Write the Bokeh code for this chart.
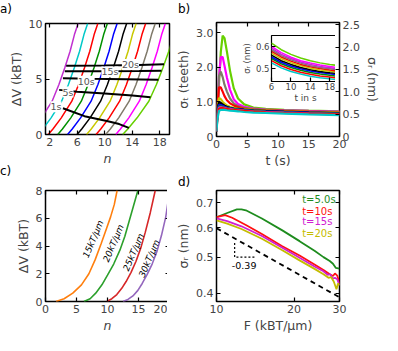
from bokeh.plotting import figure
from bokeh.models import (Range1d, LinearAxis, LogAxis, FixedTicker, Label, Div,
                          CustomJSTickFormatter, BasicTickFormatter)
from bokeh.layouts import column
from bokeh.embed import file_html
from bokeh.resources import INLINE

FONT = "DejaVu Sans"

# ---------------- panel a data ----------------
a_levels = [0, 0.5, 1.5, 3, 4.5, 6, 7.5, 9, 10]
a_n_purple = [-1.06, -0.38, 0.83, 2.36, 3.35, 4.19, 4.97, 5.60, 6.14]
a_n_cyan = [0.32, 1.00, 2.21, 3.74, 4.73, 5.57, 6.35, 6.98, 7.52]
a_n_red = [1.80, 2.48, 3.69, 5.22, 6.21, 7.05, 7.83, 8.46, 9.00]
a_n_green = [3.18, 3.86, 5.07, 6.60, 7.59, 8.43, 9.21, 9.84, 10.38]
a_n_blue = [4.60, 5.28, 6.49, 8.02, 9.01, 9.85, 10.63, 11.26, 11.80]
a_n_black = [5.98, 6.66, 7.87, 9.40, 10.39, 11.23, 12.01, 12.64, 13.18]
a_n_olive = [7.36, 8.04, 9.25, 10.78, 11.77, 12.61, 13.39, 14.02, 14.56]
a_n_red2 = [8.74, 9.42, 10.63, 12.16, 13.15, 13.99, 14.77, 15.40, 15.94]
a_n_gray = [10.13, 10.81, 12.02, 13.55, 14.54, 15.38, 16.16, 16.79, 17.33]
a_n_magenta = [11.60, 12.28, 13.49, 15.02, 16.01, 16.85, 17.63, 18.26, 18.80]
a_n_lime = [12.60, 13.35, 14.70, 16.40, 17.50, 18.43, 19.30, 20.00, 20.60]
a_colors = ["#c030d0", "#00c8c8", "#ff0000", "#009000", "#0000ff", "#000000",
            "#c8c800", "#ff0000", "#807a6a", "#ff00ff", "#66d000"]

a_iso_1s_n = [3.93, 7.06, 10.3, 12.1, 13.5]
a_iso_1s_v = [2.37, 1.65, 1.22, 0.94, 0.60]
a_iso_5s_n = [3.38, 6.0, 10.0, 14.0, 16.64]
a_iso_5s_v = [4.02, 3.85, 3.70, 3.52, 3.36]
a_iso_10s_n = [3.93, 8.0, 13.0, 17.8]
a_iso_10s_v = [5.07, 5.02, 4.98, 4.93]
a_iso_15s_n = [4.2, 10.0, 15.0, 18.25]
a_iso_15s_v = [5.70, 5.70, 5.72, 5.75]
a_iso_20s_n = [4.4, 10.0, 15.0, 18.6]
a_iso_20s_v = [6.20, 6.22, 6.26, 6.32]
a_iso_labels = ["1s", "5s", "10s", "15s", "20s"]
a_iso_label_n = [2.92, 4.67, 7.3, 10.75, 13.73]
a_iso_label_v = [2.5, 3.82, 4.79, 5.64, 6.3]

# ---------------- panel b data ----------------
b_t = [0, 0.15, 0.4, 0.7, 1.0, 1.3, 1.7, 2.2, 2.8, 3.5, 4.5, 6, 8, 11, 15, 20]
b_lime = [0.15, 0.6, 1.5, 2.45, 2.92, 2.85, 2.45, 1.9, 1.4, 1.1, 0.93, 0.84, 0.80, 0.77, 0.75, 0.73]
b_magenta = [0.15, 0.7, 1.7, 2.3, 2.3, 2.05, 1.7, 1.35, 1.08, 0.94, 0.86, 0.81, 0.78, 0.76, 0.74, 0.72]
b_gray = [0.15, 0.8, 1.75, 1.88, 1.72, 1.5, 1.3, 1.1, 0.96, 0.88, 0.83, 0.79, 0.77, 0.75, 0.73, 0.71]
b_red2 = [0.15, 0.85, 1.42, 1.42, 1.3, 1.17, 1.05, 0.96, 0.9, 0.85, 0.81, 0.78, 0.76, 0.74, 0.72, 0.70]
b_olive = [0.15, 0.85, 1.12, 1.08, 1.01, 0.95, 0.9, 0.86, 0.83, 0.81, 0.79, 0.77, 0.75, 0.73, 0.71, 0.69]
b_black = [0.15, 0.8, 0.99, 0.97, 0.93, 0.89, 0.86, 0.83, 0.81, 0.8, 0.78, 0.76, 0.74, 0.72, 0.70, 0.68]
b_blue = [0.15, 0.75, 0.92, 0.91, 0.89, 0.86, 0.84, 0.82, 0.8, 0.79, 0.77, 0.75, 0.73, 0.71, 0.69, 0.67]
b_green = [0.15, 0.7, 0.87, 0.87, 0.86, 0.84, 0.82, 0.81, 0.79, 0.78, 0.76, 0.74, 0.72, 0.70, 0.68, 0.66]
b_purple = [0.15, 0.65, 0.84, 0.85, 0.84, 0.83, 0.81, 0.8, 0.78, 0.77, 0.75, 0.73, 0.71, 0.69, 0.67, 0.65]
b_red = [0.15, 0.6, 0.8, 0.82, 0.82, 0.81, 0.8, 0.78, 0.77, 0.76, 0.74, 0.72, 0.70, 0.68, 0.66, 0.64]
b_cyan = [0.15, 0.5, 0.74, 0.77, 0.77, 0.77, 0.76, 0.75, 0.74, 0.73, 0.71, 0.69, 0.68, 0.66, 0.64, 0.62]

# inset of b
i_t = [6, 8, 10, 12, 14, 16, 18, 20]
i_lime = [0.615, 0.585, 0.564, 0.547, 0.535, 0.525, 0.518, 0.512]
i_magenta = [0.600, 0.572, 0.551, 0.535, 0.524, 0.515, 0.508, 0.502]
i_purple = [0.592, 0.564, 0.545, 0.529, 0.518, 0.509, 0.503, 0.497]
i_gray = [0.585, 0.558, 0.539, 0.524, 0.512, 0.504, 0.498, 0.492]
i_red2 = [0.578, 0.552, 0.533, 0.518, 0.507, 0.499, 0.492, 0.487]
i_olive = [0.570, 0.544, 0.526, 0.512, 0.501, 0.493, 0.487, 0.482]
i_black = [0.560, 0.535, 0.518, 0.504, 0.494, 0.486, 0.480, 0.475]
i_blue = [0.552, 0.528, 0.511, 0.498, 0.488, 0.481, 0.475, 0.470]
i_green = [0.545, 0.521, 0.504, 0.491, 0.481, 0.474, 0.468, 0.463]
i_red = [0.535, 0.512, 0.495, 0.482, 0.473, 0.465, 0.460, 0.455]
i_cyan = [0.525, 0.502, 0.486, 0.474, 0.464, 0.457, 0.452, 0.447]

# ---------------- panel c data ----------------
c_n15 = [1.7, 3.0, 4.4, 5.8, 7.0, 8.0, 9.0, 9.8, 10.5, 11.1, 11.55]
c_v15 = [0, 0.2, 0.6, 1.2, 2.0, 3.0, 4.2, 5.2, 6.1, 7.0, 8.0]
c_n20 = [6.2, 7.2, 8.1, 9.1, 10.0, 11.0, 12.0, 12.8, 13.5, 14.2, 14.9]
c_v20 = [0, 0.2, 0.6, 1.2, 1.9, 2.7, 3.7, 4.7, 5.8, 6.9, 8.0]
c_n25 = [9.9, 10.7, 11.5, 12.3, 13.0, 13.8, 14.6, 15.4, 16.1, 16.9, 17.7]
c_v25 = [0, 0.2, 0.5, 0.95, 1.44, 2.1, 2.9, 3.9, 5.0, 6.4, 8.0]
c_n30 = [12.5, 13.3, 14.1, 14.9, 15.6, 16.4, 17.2, 18.0, 18.7, 19.4, 20.0]
c_v30 = [0, 0.15, 0.4, 0.8, 1.3, 1.95, 2.7, 3.65, 4.75, 6.1, 7.9]
c_colors = ["#ff7f0e", "#2ca02c", "#d62728", "#9467bd"]
c_labels = ["15kT/μm", "20kT/μm", "25kT/μm", "30kT/μm"]
c_label_n = [7.7, 10.95, 14.2, 16.75]
c_label_v = [4.5, 4.2, 3.55, 3.1]

# ---------------- panel d data ----------------
d_F5 = [10, 11, 12, 12.5, 13, 15, 18, 21, 24, 26, 27.5, 28.3, 29, 30]
d_s5 = [0.64, 0.657, 0.672, 0.672, 0.668, 0.635, 0.59, 0.552, 0.52, 0.5, 0.488, 0.48, 0.468, 0.466]
d_F10 = [10, 10.8, 11.5, 13, 15, 18, 21, 24, 26, 27.5, 28.3, 28.8, 29.4, 30]
d_s10 = [0.64, 0.648, 0.638, 0.61, 0.577, 0.535, 0.505, 0.478, 0.462, 0.45, 0.445, 0.452, 0.446, 0.425]
d_F15 = [10, 11, 12.5, 15, 18, 21, 24, 26, 27, 27.6, 28.2, 28.8, 29.4, 30]
d_s15 = [0.635, 0.625, 0.605, 0.57, 0.53, 0.498, 0.472, 0.458, 0.448, 0.45, 0.438, 0.44, 0.436, 0.42]
d_F20 = [10, 11, 12.5, 15, 18, 21, 24, 26, 27.2, 27.8, 28.5, 29.2, 29.6, 30]
d_s20 = [0.628, 0.615, 0.595, 0.56, 0.522, 0.49, 0.465, 0.45, 0.44, 0.442, 0.43, 0.41, 0.425, 0.42]
d_colors = ["#1e8c1e", "#ff1010", "#d020d0", "#c4bc00"]
d_labels = ["t=5.0s", "t=10s", "t=15s", "t=20s"]
d_label_F = [21.5, 21.5, 21.5, 21.5]
d_label_s = [0.715, 0.665, 0.624, 0.577]
d_fit_F = [10, 30]
d_fit_s = [0.598, 0.39]
d_tri_F = [11.76, 11.76, 14.1]
d_tri_s = [0.546, 0.5, 0.5]


def base_fig(xr, yr, fl, ft, fw, fh, bl, bt, br, bb, x_type="linear", y_type="linear"):
    p = figure(x_range=xr, y_range=yr, x_axis_type=x_type, y_axis_type=y_type,
               width=bl + fw + br, height=bt + fh + bb,
               frame_width=fw, frame_height=fh,
               min_border_left=bl, min_border_top=bt, min_border_right=br, min_border_bottom=bb,
               output_backend="svg", toolbar_location=None)
    p.styles = {"position": "absolute", "left": f"{fl - bl}px", "top": f"{ft - bt}px"}
    p.background_fill_color = "white"
    p.border_fill_color = None
    p.outline_line_color = "black"
    p.outline_line_width = 1.5
    p.grid.visible = False
    return p


def style_axis(ax, ticks, label=None, label_size="12.5px", tick_size="11px",
               italic=False, formatter=None, lstand=3, astand=2):
    ax.ticker = FixedTicker(ticks=ticks)
    if formatter is not None:
        ax.formatter = formatter
    ax.axis_line_color = None
    ax.major_tick_in = 4
    ax.major_tick_out = 0
    ax.major_tick_line_width = 1.2
    ax.minor_tick_line_color = None
    ax.major_label_text_font = FONT
    ax.major_label_text_font_size = tick_size
    ax.major_label_standoff = lstand
    ax.axis_label = label
    ax.axis_label_text_font = FONT
    ax.axis_label_text_font_size = label_size
    ax.axis_label_text_font_style = "italic" if italic else "normal"
    ax.axis_label_standoff = astand


def mirror(p, side, ticks, cls=LinearAxis, **kw):
    ax = cls(**kw)
    ax.ticker = FixedTicker(ticks=ticks)
    ax.formatter = CustomJSTickFormatter(code="return ''")
    ax.axis_line_color = None
    ax.major_tick_in = 4
    ax.major_tick_out = 0
    ax.major_tick_line_width = 1.2
    ax.minor_tick_line_color = None
    ax.major_label_standoff = 0
    p.add_layout(ax, side)


# ---------------- panel a ----------------
pa = base_fig((1.4, 19.4), (0, 10), 34, 23, 124, 111, 34, 23, 10, 32)
for ns, col in zip([a_n_purple, a_n_cyan, a_n_red, a_n_green, a_n_blue, a_n_black,
                    a_n_olive, a_n_red2, a_n_gray, a_n_magenta, a_n_lime], a_colors):
    pa.line(ns, a_levels, line_color=col, line_width=1.5)
for xs, ys in [(a_iso_1s_n, a_iso_1s_v), (a_iso_5s_n, a_iso_5s_v), (a_iso_10s_n, a_iso_10s_v),
               (a_iso_15s_n, a_iso_15s_v), (a_iso_20s_n, a_iso_20s_v)]:
    pa.line(xs, ys, line_color="black", line_width=2)
for txt, xn, yv in zip(a_iso_labels, a_iso_label_n, a_iso_label_v):
    pa.add_layout(Label(x=xn, y=yv, text=txt, text_align="center", text_baseline="middle",
                        text_font=FONT, text_font_size="9.5px", text_color="#555555",
                        background_fill_color="white"))
style_axis(pa.xaxis[0], [2, 6, 10, 14, 18], "n", italic=True)
style_axis(pa.yaxis[0], [0, 5, 10], "ΔV (kBT)")
mirror(pa, "right", [0, 5, 10])
mirror(pa, "above", [2, 6, 10, 14, 18])

# ---------------- panel b ----------------
pb = base_fig((0, 20), (0, 3.3), 215, 22, 123, 114, 44, 22, 44, 32)
pb.extra_y_ranges = {"nm": Range1d(0, 2.55)}
for ys, col in zip([b_lime, b_magenta, b_gray, b_red2, b_olive, b_black, b_blue,
                    b_green, b_purple, b_red, b_cyan],
                   ["#66d000", "#ff00ff", "#807a6a", "#ff0000", "#c8c800", "#000000",
                    "#0000ff", "#009000", "#c030d0", "#ff0000", "#00c8c8"]):
    pb.line(b_t, ys, line_color=col, line_width=2.2)
fmt1 = CustomJSTickFormatter(code="return tick == 0 ? '0' : tick.toFixed(1)")
style_axis(pb.xaxis[0], [0, 5, 10, 15, 20], "t (s)")
style_axis(pb.yaxis[0], [0, 1, 2, 3], "σₜ (teeth)", formatter=fmt1)
rax = LinearAxis(y_range_name="nm")
style_axis(rax, [0, 0.5, 1, 1.5, 2, 2.5], "σᵣ (nm)",
           formatter=CustomJSTickFormatter(code="return tick == 0 ? '0' : tick.toFixed(1)"))
pb.add_layout(rax, "right")
mirror(pb, "above", [0, 5, 10, 15, 20])

# inset
pi = base_fig((6, 20), (0.44, 0.65), 264, 35, 68, 46, 38, 3, 3, 24)
pi.outline_line_width = 1.2
for ys, col in zip([i_cyan, i_red, i_green, i_blue, i_black, i_olive, i_red2, i_gray,
                    i_purple, i_magenta, i_lime],
                   ["#00c8c8", "#ff0000", "#009000", "#0000ff", "#000000", "#c8c800",
                    "#ff0000", "#807a6a", "#c030d0", "#ff00ff", "#66d000"]):
    pi.line(i_t, ys, line_color=col, line_width=1.5)
style_axis(pi.xaxis[0], [6, 10, 14, 18], "t in s", label_size="9px", tick_size="8.5px",
           lstand=1, astand=0)
style_axis(pi.yaxis[0], [0.5, 0.6], "σᵣ (nm)", label_size="8.5px", tick_size="8.5px",
           formatter=BasicTickFormatter(), lstand=2, astand=1)
mirror(pi, "right", [0.5, 0.6])

# ---------------- panel c ----------------
pc = base_fig((0, 20), (0, 8), 35, 190, 124, 111, 35, 20, 8, 33)
for xs, ys, col in zip([c_n15, c_n20, c_n25, c_n30], [c_v15, c_v20, c_v25, c_v30], c_colors):
    pc.line(xs, ys, line_color=col, line_width=1.6)
for txt, xn, yv in zip(c_labels, c_label_n, c_label_v):
    pc.add_layout(Label(x=xn, y=yv, text=txt, angle=67, angle_units="deg",
                        text_align="center", text_baseline="middle",
                        text_font=FONT, text_font_size="9px", text_font_style="italic",
                        text_color="black"))
style_axis(pc.xaxis[0], [0, 5, 10, 15, 20], "n", italic=True)
style_axis(pc.yaxis[0], [0, 2, 4, 6, 8], "ΔV (kBT)")
mirror(pc, "right", [0, 2, 4, 6, 8])
mirror(pc, "above", [0, 5, 10, 15, 20])

# ---------------- panel d ----------------
pd_ = base_fig(Range1d(10, 30), Range1d(0.38, 0.755), 216, 190, 123, 111, 45, 20, 10, 33,
               x_type="log", y_type="log")
for xs, ys, col in zip([d_F5, d_F10, d_F15, d_F20], [d_s5, d_s10, d_s15, d_s20], d_colors):
    pd_.line(xs, ys, line_color=col, line_width=1.8)
pd_.line(d_fit_F, d_fit_s, line_color="black", line_width=1.8, line_dash="5 4")
pd_.line(d_tri_F, d_tri_s, line_color="black", line_width=1.2, line_dash="2 2")
pd_.add_layout(Label(x=12.8, y=0.474, text="-0.39", text_align="center", text_baseline="middle",
                     text_font=FONT, text_font_size="9.5px", text_color="black"))
for txt, xf, ys, col in zip(d_labels, d_label_F, d_label_s, d_colors):
    pd_.add_layout(Label(x=xf, y=ys, text=txt, text_align="left", text_baseline="middle",
                         text_font=FONT, text_font_size="10px", text_color=col))
style_axis(pd_.xaxis[0], [10, 20, 30], "F (kBT/μm)", formatter=BasicTickFormatter())
style_axis(pd_.yaxis[0], [0.4, 0.5, 0.6, 0.7], "σᵣ (nm)", formatter=BasicTickFormatter())
mirror(pd_, "right", [0.4, 0.5, 0.6, 0.7], cls=LogAxis)
mirror(pd_, "above", [10, 20, 30], cls=LogAxis)


def panel_label(txt, left, top):
    return Div(text=txt, width=20, height=16,
               styles={"position": "absolute", "left": f"{left}px", "top": f"{top}px",
                       "font-family": FONT, "font-size": "12px", "margin": "0"})


root = column([pa, pb, pi, pc, pd_,
               panel_label("a)", 0, 1), panel_label("b)", 178, 1),
               panel_label("c)", 0, 163), panel_label("d)", 178, 174)],
              width=382, height=335, styles={"position": "relative"})

open("out.html", "w").write(file_html(root, INLINE))
